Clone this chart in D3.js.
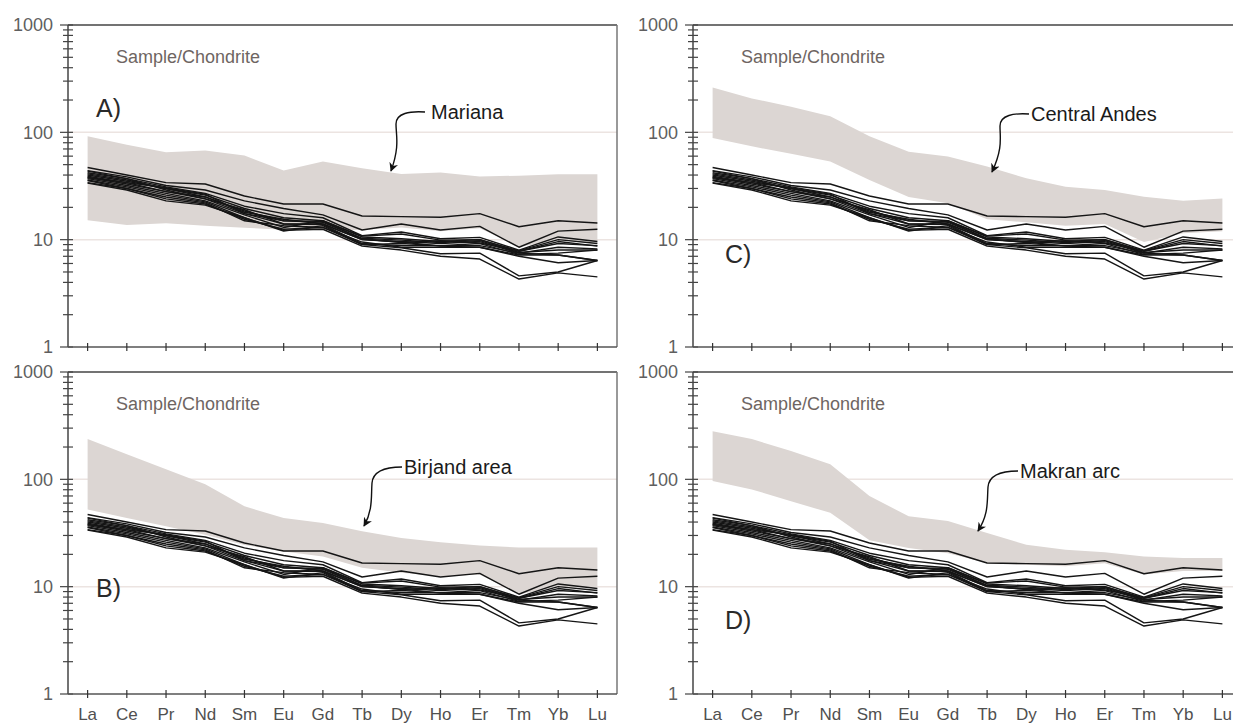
<!DOCTYPE html>
<html><head><meta charset="utf-8">
<script src="https://cdn.jsdelivr.net/npm/d3@7"></script>
<style>
body{margin:0;background:#fff;}
svg{display:block;font-family:"Liberation Sans",Arial,sans-serif;}
</style>
</head><body>
<svg id="chart" width="1233" height="725"></svg>
<script>
// ---------- data ----------
const elements = ["La","Ce","Pr","Nd","Sm","Eu","Gd","Tb","Dy","Ho","Er","Tm","Yb","Lu"];
const yTickValues = [1, 10, 100, 1000];
const gridValues = [10, 100];

// sample/chondrite patterns (same in all four panels)
const s01 = [47, 40, 34, 33, 25.5, 21.5, 21.5, 16.6, 16.4, 16.2, 17.5, 13.2, 15, 14.3];
const s02 = [44, 38.5, 32, 29, 23, 19.5, 17, 12.3, 14, 12.3, 13.3, 8.5, 12, 12.5];
const s03 = [42, 37, 31, 27, 20.5, 17.5, 16, 10.9, 11.8, 10.2, 10.5, 8.0, 10.6, 9.6];
const s04 = [40, 35, 30, 26, 19.5, 16, 15, 10.6, 10.2, 9.6, 10, 7.8, 9.6, 8.7];
const s05 = [39, 34, 28, 25, 18.5, 15, 14.5, 10.3, 9.9, 9.4, 9.8, 7.6, 8.0, 8.0];
const s06 = [38, 33, 28, 24, 17.5, 14, 14, 10, 9.6, 9.2, 9.6, 7.5, 8.5, 8.2];
const s07 = [37, 32, 27, 23, 17, 13, 15, 10.8, 11.3, 9.9, 10, 7.8, 9.2, 8.8];
const s08 = [36, 31, 26, 22.5, 16, 12, 13.5, 9, 9.2, 8.8, 9.2, 7.3, 7.5, 8.0];
const s09 = [35.5, 30, 25, 22, 15, 13.5, 13, 9.5, 8.5, 8.5, 8.5, 7.2, 7.2, 6.4];
const s10 = [34, 30, 24, 21.5, 15.5, 12.5, 13, 9, 8.4, 7.4, 7.5, 4.6, 5.0, 6.4];
const s11 = [33.6, 29, 23, 21, 16, 12.2, 12.5, 8.7, 8.0, 7.0, 6.6, 4.3, 4.9, 4.5];
const s12 = [41, 36, 30, 25, 18, 15.5, 14, 10, 9.5, 8.7, 8.5, 7.0, 6.1, 6.4];
const s13 = [43.5, 37, 29, 24, 19, 14, 13.8, 9.2, 8.8, 8.8, 8.8, 7.5, 7.2, 6.4];
const s14 = [38, 34, 30.5, 26.5, 17.5, 15, 14.8, 10.2, 9.4, 9.8, 9.3, 7.9, 10, 9.2];
const samples = [s01,s02,s03,s04,s05,s06,s07,s08,s09,s10,s11,s12,s13,s14];

// comparison fields (upper / lower envelopes)
const marianaTop    = [91.7, 76.6, 65.4, 67.8, 60.9, 44, 53.5, 46.3, 41, 42.2, 38.7, 39.5, 40.7, 40.7];
const marianaBottom = [15.2, 13.7, 14.2, 13.5, 12.9, 12.4, 12.4, 12.3, 13, 12, 12.8, 8.6, 9.8, 9.4];
const andesTop      = [261, 207, 173, 141, 91.7, 66, 59.6, 48, 37.3, 31.2, 29, 25.1, 23, 24.2];
const andesBottom   = [88.5, 74, 63, 53.5, 36, 25, 21.8, 15.5, 14.5, 13.5, 14, 9.5, 11.5, 12];
const birjandTop    = [237, 171, 124, 90, 56, 43.7, 39.2, 32.8, 28.4, 26, 24.2, 23.2, 23.2, 23.2];
const birjandBottom = [52.3, 43.7, 36.5, 30.5, 24.5, 21.3, 19.1, 15, 13.5, 12.5, 13, 8.5, 10, 10];
const makranTop     = [280, 237, 184, 138, 69.8, 45.3, 40.8, 31.6, 24.6, 22.1, 20.9, 19.1, 18.5, 18.5];
const makranBottom  = [96.5, 80.6, 62.6, 48.7, 27, 22.9, 20.5, 16.6, 16, 15.5, 16.5, 13, 14, 14];

// ---------- layout ----------
const W = 549, H = 322;
const panels = [
  {ox:68,  oy:25,  letter:"A)", lx:28, ly:83,  name:"Mariana",       top:marianaTop, bottom:marianaBottom,
   tx:363, ty:87,  arrow:"M357,87 C342,86 328,88 328,99 C328,111 332,121 323,146", xlabels:false},
  {ox:68,  oy:372, letter:"B)", lx:28, ly:216, name:"Birjand area",  top:birjandTop, bottom:birjandBottom,
   tx:336, ty:95,  arrow:"M334,95 C318,95 305,99 304,111 C303,125 305,138 296,154", xlabels:true},
  {ox:693, oy:25,  letter:"C)", lx:32, ly:229, name:"Central Andes", top:andesTop, bottom:andesBottom,
   tx:338, ty:89,  arrow:"M336,89 C321,88 307,90 307,101 C307,113 310,123 299,147", xlabels:false},
  {ox:693, oy:372, letter:"D)", lx:32, ly:248, name:"Makran arc",    top:makranTop, bottom:makranBottom,
   tx:327, ty:99,  arrow:"M325,99 C309,99 296,103 295,115 C294,129 296,142 285,159", xlabels:true}
];

const svg = d3.select("#chart");
const defs = svg.append("defs");
defs.append("marker").attr("id","arrowhead").attr("viewBox","0 0 10 10")
  .attr("refX",9).attr("refY",5).attr("markerWidth",9).attr("markerHeight",9)
  .attr("markerUnits","userSpaceOnUse").attr("orient","auto")
  .append("path").attr("d","M0,0 L10,5 L0,10 L3,5 Z").attr("fill","#111");

const x = d3.scaleLinear().domain([-0.5, elements.length - 0.5]).range([0, W]);
const y = d3.scaleLog().domain([1, 1000]).range([H, 0]);

const minorTicks = [];
[1,10,100].forEach(d => { for (let k = 2; k <= 9; k++) minorTicks.push(d * k); });

panels.forEach(p => {
  const g = svg.append("g").attr("transform", `translate(${p.ox},${p.oy})`);

  // gridlines
  g.selectAll(".grid").data(gridValues).enter().append("line")
    .attr("x1", 0).attr("x2", W).attr("y1", d => y(d)).attr("y2", d => y(d))
    .attr("stroke", "#ece4e1").attr("stroke-width", 1.5);

  // field band
  const band = d3.area()
    .x((d, i) => x(i))
    .y0((d, i) => y(p.bottom[i]))
    .y1((d, i) => y(p.top[i]));
  g.append("path").datum(p.top).attr("d", band).attr("fill", "#dcd6d3");

  // sample lines
  const line = d3.line().x((d, i) => x(i)).y(d => y(d));
  g.selectAll(".sample").data(samples).enter().append("path")
    .attr("d", line).attr("fill", "none").attr("stroke", "#151515")
    .attr("stroke-width", 1.4).attr("stroke-linejoin", "round");

  // frame: top & right borders
  g.append("line").attr("x1", 0).attr("x2", W).attr("y1", 0).attr("y2", 0)
    .attr("stroke", "#444").attr("stroke-width", 1.5);
  g.append("line").attr("x1", W).attr("x2", W).attr("y1", 0).attr("y2", H)
    .attr("stroke", "#777").attr("stroke-width", 1.5);

  // y axis
  const yAxis = g.append("g");
  yAxis.append("line").attr("x1", 0).attr("x2", 0).attr("y1", 0).attr("y2", H)
    .attr("stroke", "#444").attr("stroke-width", 1.5);
  yAxis.selectAll(".minor").data(minorTicks).enter().append("line")
    .attr("x1", -5).attr("x2", 5).attr("y1", d => y(d)).attr("y2", d => y(d))
    .attr("stroke", "#444").attr("stroke-width", 1.2);
  yAxis.selectAll(".major").data(yTickValues).enter().append("line")
    .attr("x1", -8).attr("x2", 5).attr("y1", d => y(d)).attr("y2", d => y(d))
    .attr("stroke", "#444").attr("stroke-width", 1.2);
  yAxis.selectAll(".ylab").data(yTickValues).enter().append("text")
    .attr("x", -15).attr("y", d => y(d)).attr("dy", "0.36em")
    .attr("text-anchor", "end").attr("font-size", 18).attr("fill", "#5f5f5f")
    .text(d => d);

  // x axis
  const xAxis = g.append("g").attr("transform", `translate(0,${H})`);
  xAxis.append("line").attr("x1", 0).attr("x2", W).attr("stroke", "#555").attr("stroke-width", 1.5);
  xAxis.selectAll(".xt").data(elements).enter().append("line")
    .attr("x1", (d, i) => x(i)).attr("x2", (d, i) => x(i)).attr("y1", -4).attr("y2", 4)
    .attr("stroke", "#333").attr("stroke-width", 1.2);
  if (p.xlabels) {
    xAxis.selectAll(".xl").data(elements).enter().append("text")
      .attr("x", (d, i) => x(i)).attr("y", 20).attr("dy", "0.36em")
      .attr("text-anchor", "middle").attr("font-size", 17).attr("fill", "#505050")
      .text(d => d);
  }

  // texts
  g.append("text").attr("x", 48).attr("y", 32).attr("dy", "0.36em")
    .attr("font-size", 18).attr("fill", "#6e6562").text("Sample/Chondrite");
  g.append("text").attr("x", p.lx).attr("y", p.ly).attr("dy", "0.36em")
    .attr("font-size", 25).attr("fill", "#2a2a2a").text(p.letter);
  g.append("text").attr("x", p.tx).attr("y", p.ty).attr("dy", "0.36em")
    .attr("font-size", 20).attr("fill", "#1a1a1a").text(p.name);
  g.append("path").attr("d", p.arrow).attr("fill", "none").attr("stroke", "#111")
    .attr("stroke-width", 1.4).attr("marker-end", "url(#arrowhead)");
});
</script>
</body></html>
